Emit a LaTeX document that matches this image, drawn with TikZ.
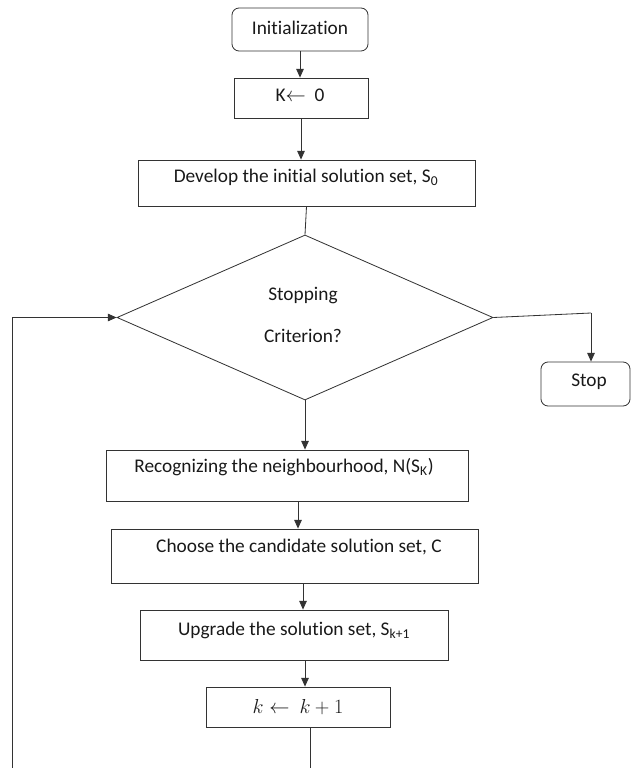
\documentclass[tikz,border=0pt]{standalone}
\usepackage{fontspec}
\setmainfont{Carlito}[Ligatures=NoCommon]
\usetikzlibrary{arrows.meta,positioning,shapes.geometric,calc}

\begin{document}
\begin{tikzpicture}[x=0.03cm,y=-0.03cm,
  box/.style={draw=black!80,line width=0.7pt,inner sep=0pt},
  roundbox/.style={box,rounded corners=6pt},
  txt/.style={font=\fontsize{16.5}{19}\selectfont,text=black!90,inner sep=0pt},
  arr/.style={draw=black!80,line width=0.7pt,-{Triangle[length=7.5pt,width=6.5pt]}},
  line/.style={draw=black!80,line width=0.7pt}
]
  \useasboundingbox (0,0) rectangle (630,768);
  % start
  \node[roundbox,minimum width=4.08cm,minimum height=1.29cm] (init) at (300,29.5) {};
  \node[txt] (initt) at (300,28) {Initialization};
  \node[box,minimum width=4.02cm,minimum height=1.2cm] (kzero) at (301,98) {};
  \node[txt] (kzerot) at (300,95) {K$\leftarrow$\ \ 0};
  \node[box,minimum width=10.11cm,minimum height=1.38cm] (dev) at (306.5,183) {};
  \node[txt] (devt) at (306,177) {Develop the initial solution set, S\textsubscript{0}};
  % decision
  \node[box,diamond,minimum width=11.28cm,minimum height=4.95cm] (crit) at (305,317.5) {};
  \node[txt] (critt1) at (303,296) {Stopping};
  \node[txt] (critt2) at (303,336) {Criterion?};
  \node[roundbox,minimum width=2.67cm,minimum height=1.32cm] (stop) at (585.5,384) {};
  \node[txt] (stopt) at (589,382) {Stop};
  % loop body
  \node[box,minimum width=10.86cm,minimum height=1.53cm] (recog) at (287,475.5) {};
  \node[txt] (recogt) at (284,467) {Recognizing the neighbourhood, N(S\textsubscript{K})};
  \node[box,minimum width=11.01cm,minimum height=1.62cm] (choose) at (294.5,556) {};
  \node[txt] (chooset) at (299,547) {Choose the candidate solution set, C};
  \node[box,minimum width=9.24cm,minimum height=1.5cm] (upg) at (294,635) {};
  \node[txt] (upgt) at (294,630) {Upgrade the solution set, S\textsubscript{k+1}};
  \node[box,minimum width=5.52cm,minimum height=1.2cm] (kinc) at (298,707) {};
  \node[txt] (kinct) at (298,707) {$k \leftarrow\ k+1$};
  % open ends
  \coordinate (botk) at (310,768);
  \coordinate (botl) at (12,768);
  \coordinate (rt) at (591,313);
  % connectors
  \draw[arr] (init.south) -- (init.south |- kzero.north);
  \draw[arr] (kzero.south) -- (kzero.south |- dev.north);
  \draw[line] (dev.south) -- (crit.north);
  \draw[arr] (crit.south) -- (crit.south |- recog.north);
  \draw[line] (crit.east) -- (rt);
  \draw[arr] (rt) -- (rt |- stop.north);
  \draw[arr] ([xshift=0.33cm]recog.south) -- ([xshift=0.33cm]recog.south |- choose.north);
  \draw[arr] ([xshift=0.27cm]upg.north |- choose.south) -- ([xshift=0.27cm]upg.north);
  \draw[arr] ([xshift=0.33cm]upg.south) -- ([xshift=0.21cm]kinc.north);
  \draw[line] (botk |- kinc.south) -- (botk);
  \draw[arr] (botl) |- (crit.west);
\end{tikzpicture}
\end{document}
